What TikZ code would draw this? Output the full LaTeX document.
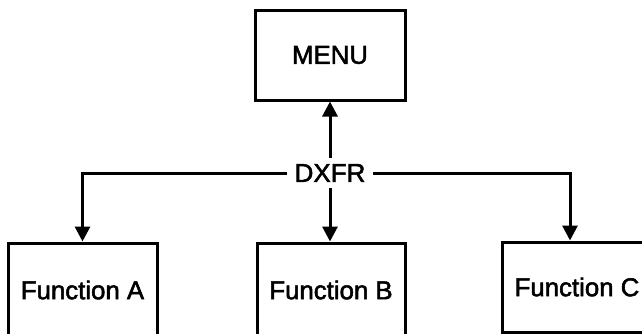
\documentclass[tikz,border=0pt]{standalone}
\usepackage{fontspec}
\newfontfamily\lblfont{Liberation Sans}[FakeBold=2]
\usetikzlibrary{arrows.meta,calc}
\begin{document}
\begin{tikzpicture}[x=1pt,y=-1pt,
  box/.style={draw, line width=3pt, inner sep=0pt, font=\lblfont\fontsize{25.8}{30}\selectfont},
  hub/.style={inner xsep=7pt, inner ysep=6pt, font=\lblfont\fontsize{26}{30}\selectfont},
  link/.style={line width=3pt, -{Triangle[length=15pt,width=15pt]}}
]
\useasboundingbox (0,0) rectangle (642,333);
\fill[white] (0,0) rectangle (642,333);
\clip (0,0) rectangle (642,333);

% boxes
\node[box, minimum width=150pt, minimum height=90pt] (menu) at (330,55) {MENU};
\node[box, minimum width=149pt, minimum height=94pt] (fa) at (82.5,290) {Function A};
\node[box, minimum width=148pt, minimum height=94pt] (fb) at (331,290) {Function B};
\node[box, minimum width=150pt, minimum height=90pt] (fc) at (577,287) {Function C};

% distribution point
\node[hub] (dxfr) at (330,173) {DXFR};

% connectors
\draw[link] (dxfr.north) -- (menu.south);
\draw[link] (dxfr.south) -- (dxfr.south |- fb.north);
\draw[link] (dxfr.west) -| (fa.north);
\draw[link] (dxfr.east) -| ([xshift=-7pt]fc.north);
\end{tikzpicture}
\end{document}
